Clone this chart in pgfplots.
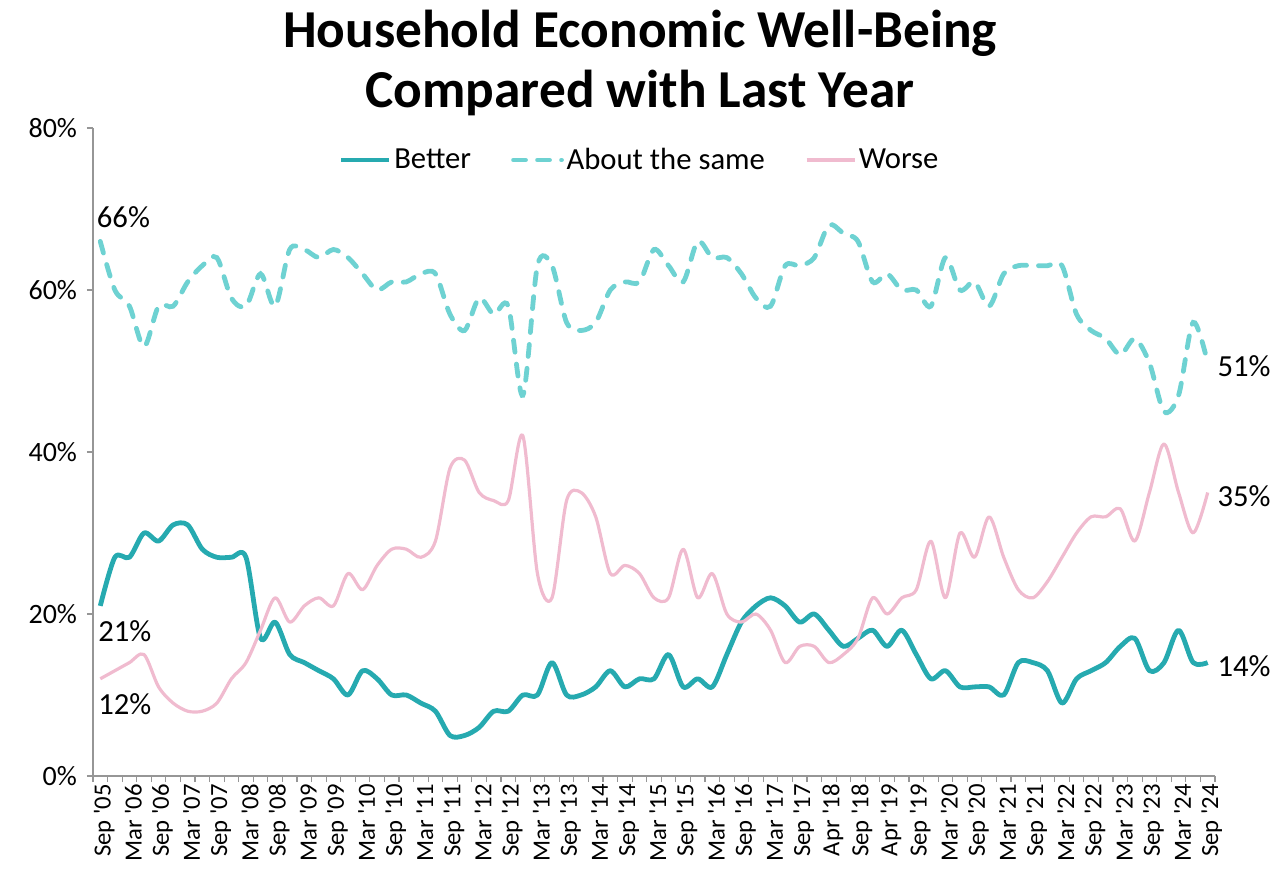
\documentclass[border=0pt]{standalone}
\usepackage{fontspec}
\setmainfont{Carlito}
\usepackage{pgfplots}
\usepackage{pgfplotstable}
\pgfplotsset{compat=1.18}

\definecolor{better}{RGB}{38,170,176}
\definecolor{same}{RGB}{110,210,210}
\definecolor{worse}{RGB}{240,187,207}
\definecolor{axisgray}{RGB}{150,150,150}

\newcommand{\q}{\textquotesingle}

% quarterly survey, Sep '05 (0) ... Sep '24 (76)
\pgfplotstableread{
x better same worse
0 21 66 12
1 27 60 13
2 27 58 14
3 30 53 15
4 29 58 11
5 31 58 9
6 31 61 8
7 28 63 8
8 27 64 9
9 27 59 12
10 27 58 14
11 17 62 18
12 19 58 22
13 15 65 19
14 14 65 21
15 13 64 22
16 12 65 21
17 10 64 25
18 13 62 23
19 12 60 26
20 10 61 28
21 10 61 28
22 9 62 27
23 8 62 29
24 5 57 38
25 5 55 39
26 6 59 35
27 8 57 34
28 8 58 34
29 10 47 42
30 10 63 25
31 14 63 22
32 10 56 34
33 10 55 35
34 11 56 32
35 13 60 25
36 11 61 26
37 12 61 25
38 12 65 22
39 15 63 22
40 11 61 28
41 12 66 22
42 11 64 25
43 15 64 20
44 19 62 19
45 21 59 20
46 22 58 18
47 21 63 14
48 19 63 16
49 20 64 16
50 18 68 14
51 16 67 15
52 17 66 17
53 18 61 22
54 16 62 20
55 18 60 22
56 15 60 23
57 12 58 29
58 13 64 22
59 11 60 30
60 11 61 27
61 11 58 32
62 10 62 27
63 14 63 23
64 14 63 22
65 13 63 24
66 9 63 27
67 12 57 30
68 13 55 32
69 14 54 32
70 16 52 33
71 17 54 29
72 13 51 35
73 14 45 41
74 18 47 35
75 14 56 30
76 14 51 35
}\survey

\begin{document}
\begin{tikzpicture}
% page frame: 1278 x 871 px at 0.75pt per px, origin at the lower left of the plot area
\path[use as bounding box] (-69.75pt,-71.25pt) rectangle (888.75pt,582pt);

\node[font=\bfseries\fontsize{40}{45}\selectfont, align=center]
  at (410.25pt,535pt) {Household Economic Well-Being\\Compared with Last Year};

\begin{axis}[
  at={(0,0)}, anchor=south west,
  scale only axis,
  width=841.5pt, height=486pt,
  xmin=-0.5, xmax=76.5,
  ymin=0, ymax=80,
  axis x line*=bottom, axis y line*=left,
  axis line style={axisgray, line width=0.8pt},
  tick align=outside,
  major tick length=4.5pt,
  tick style={axisgray, line width=0.8pt},
  xtick={-0.5,0.5,...,76.5},
  xticklabels={},
  extra x ticks={0,2,...,76},
  extra x tick labels={Sep \q05,Mar \q06,Sep \q06,Mar \q07,Sep \q07,Mar \q08,Sep \q08,Mar \q09,Sep \q09,Mar \q10,Sep \q10,Mar \q11,Sep \q11,Mar \q12,Sep \q12,Mar \q13,Sep \q13,Mar \q14,Sep \q14,Mar \q15,Sep \q15,Mar \q16,Sep \q16,Mar \q17,Sep \q17,Apr \q18,Sep \q18,Apr \q19,Sep \q19,Mar \q20,Sep \q20,Mar \q21,Sep \q21,Mar \q22,Sep \q22,Mar \q23,Sep \q23,Mar \q24,Sep \q24},
  extra x tick style={major tick length=0pt,
    tick label style={rotate=90, anchor=east, font=\fontsize{18.5}{20}\selectfont, inner sep=6pt, yshift=-3pt}},
  ytick={0,20,40,60,80},
  yticklabels={0\%,20\%,40\%,60\%,80\%},
  yticklabel style={font=\fontsize{21}{24}\selectfont, xshift=-4pt},
  clip=false,
  legend columns=-1,
  legend style={at={(0.4875,0.9506)}, anchor=center, draw=none, fill=none,
    font=\fontsize{23}{25}\selectfont,
    /tikz/every even column/.append style={column sep=28pt}},
  legend image code/.code={\draw[#1] (0pt,0pt) -- (36pt,0pt);},
]
\addplot[better, line width=3.6pt, smooth, tension=0.5, line join=round] table[x=x, y=better] {\survey};
\addlegendentry{Better}
\addplot[same, line width=3.6pt, smooth, tension=0.5, line cap=round, dash pattern=on 9pt off 9pt] table[x=x, y=same] {\survey};
\addlegendentry{About the same}
\addplot[worse, line width=2.4pt, smooth, tension=0.5, line join=round] table[x=x, y=worse] {\survey};
\addlegendentry{Worse}

\node[anchor=west, inner sep=0pt, font=\fontsize{23}{25}\selectfont] at (axis cs:-0.25,69) {66\%};
\node[anchor=west, inner sep=0pt, font=\fontsize{23}{25}\selectfont] at (axis cs:-0.15,17.9) {21\%};
\node[anchor=west, inner sep=0pt, font=\fontsize{23}{25}\selectfont] at (axis cs:-0.15,8.9) {12\%};
\node[anchor=west, inner sep=0pt, font=\fontsize{23}{25}\selectfont] at (axis cs:76.66,50.6) {51\%};
\node[anchor=west, inner sep=0pt, font=\fontsize{23}{25}\selectfont] at (axis cs:76.66,34.6) {35\%};
\node[anchor=west, inner sep=0pt, font=\fontsize{23}{25}\selectfont] at (axis cs:76.66,13.6) {14\%};
\end{axis}
\end{tikzpicture}
\end{document}
